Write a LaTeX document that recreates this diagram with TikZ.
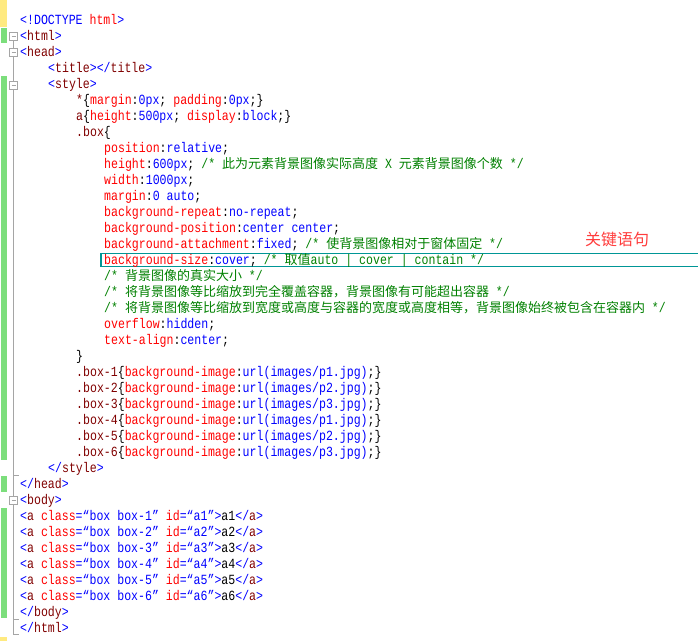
\documentclass[tikz,border=0pt]{standalone}
\usepackage{fontspec}
\usepackage{xcolor}
\usepackage{tikz}
\setmonofont[FakeStretch=0.826]{Liberation Mono}
\newfontfamily\zhfont{Noto Sans CJK SC}

\definecolor{htmlbrk}{RGB}{0,0,255}
\definecolor{htmltag}{RGB}{128,0,0}
\definecolor{htmlattr}{RGB}{255,0,0}
\definecolor{htmlval}{RGB}{0,0,255}
\definecolor{htmlcmt}{RGB}{0,128,0}
\definecolor{gutgreen}{RGB}{124,222,124}
\definecolor{gutyellow}{RGB}{255,234,128}
\definecolor{foldgray}{RGB}{165,165,165}
\definecolor{hiliteteal}{RGB}{0,150,150}
\definecolor{noteRed}{RGB}{255,60,60}

\newcommand{\htbr}[1]{\textcolor{htmlbrk}{#1}}
\newcommand{\htag}[1]{\textcolor{htmltag}{#1}}
\newcommand{\hattr}[1]{\textcolor{htmlattr}{#1}}
\newcommand{\hval}[1]{\textcolor{htmlval}{#1}}
\newcommand{\hcmt}[1]{\textcolor{htmlcmt}{#1}}
\newcommand{\zhtext}[1]{{\zhfont\fontsize{13}{16}\selectfont #1}}

\begin{document}
\begin{tikzpicture}[x=1pt, y=-1pt,
    codeline/.style={anchor=base west, inner sep=0pt, font=\ttfamily\fontsize{14}{16}\selectfont},
    foldbox/.style={draw=foldgray, fill=white, line width=0.8pt},
    hilite/.style={draw=hiliteteal, line width=1.2pt}]
        \useasboundingbox (0,0) rectangle (698,641);

        % Change bars
        \fill[gutyellow] (0,0) rectangle (6.5,27);
        \fill[gutgreen] (1,27.5) rectangle (6.5,43);
        \fill[gutgreen] (1,75.5) rectangle (6.5,459.5);
        \fill[gutgreen] (1,476) rectangle (6.5,492);
        \fill[gutgreen] (1,508) rectangle (6.5,617.5);
        \fill[gutyellow] (0,636.5) rectangle (6.5,641);

        % Fold line and markers
        \draw[foldgray, line width=0.8pt] (13.5,36) -- (13.5,634) -- (18.5,634);
        \draw[foldgray, line width=0.8pt] (13.5,475) -- (18.5,475);
        \draw[foldgray, line width=0.8pt] (13.5,619) -- (18.5,619);
        \draw[foldbox] (9.5,32) rectangle (17.5,40);
        \draw[foldbox] (9.5,48.5) rectangle (17.5,56.5);
        \draw[foldbox] (9.5,81) rectangle (17.5,89);
        \draw[foldbox] (9.5,496) rectangle (17.5,504);
        \draw[foldgray] (11.5,36) -- (15.5,36);
        \draw[foldgray] (11.5,52.5) -- (15.5,52.5);
        \draw[foldgray] (11.5,85) -- (15.5,85);
        \draw[foldgray] (11.5,500) -- (15.5,500);

        % Highlighted line
        \draw[hilite] (101,253.5) rectangle (700,266.5);
        \node[anchor=west, inner sep=0pt, text=noteRed, font=\zhfont\fontsize{16}{16}\selectfont] (keynote) at (585,239) {关键语句};

        % Head
        \node[codeline] (l1) at (20,24.5) {\htbr{<!DOCTYPE} \hattr{html}\htbr{>}};
        \node[codeline] (l2) at (20,40.5) {\htbr{<}\htag{html}\htbr{>}};
        \node[codeline] (l3) at (20,56.5) {\htbr{<}\htag{head}\htbr{>}};
        \node[codeline] (l4) at (48,72.5) {\htbr{<}\htag{title}\htbr{></}\htag{title}\htbr{>}};
        \node[codeline] (l5) at (48,88.5) {\htbr{<}\htag{style}\htbr{>}};

        % Style rules
        \node[codeline] (l6) at (76,104.5) {\htag{*}\{\hattr{margin}:\hval{0px}; \hattr{padding}:\hval{0px};\}};
        \node[codeline] (l7) at (76,120.5) {\htag{a}\{\hattr{height}:\hval{500px}; \hattr{display}:\hval{block};\}};
        \node[codeline] (l8) at (76,136.5) {\htag{.box}\{};
        \node[codeline] (l9) at (104,152.5) {\hattr{position}:\hval{relative};};
        \node[codeline] (l10) at (104,168.5) {\hattr{height}:\hval{600px}; \hcmt{/* \zhtext{此为元素背景图像实际高度} X \zhtext{元素背景图像个数} */}};
        \node[codeline] (l11) at (104,184.5) {\hattr{width}:\hval{1000px};};
        \node[codeline] (l12) at (104,200.5) {\hattr{margin}:\hval{0 auto};};
        \node[codeline] (l13) at (104,216.5) {\hattr{background-repeat}:\hval{no-repeat};};
        \node[codeline] (l14) at (104,232.5) {\hattr{background-position}:\hval{center center};};
        \node[codeline] (l15) at (104,248.5) {\hattr{background-attachment}:\hval{fixed}; \hcmt{/* \zhtext{使背景图像相对于窗体固定} */}};
        \node[codeline] (l16) at (104,264.5) {\hattr{background-size}:\hval{cover}; \hcmt{/* \zhtext{取值}auto | cover | contain */}};
        \node[codeline] (l17) at (104,280.5) {\hcmt{/* \zhtext{背景图像的真实大小} */}};
        \node[codeline] (l18) at (104,296.5) {\hcmt{/* \zhtext{将背景图像等比缩放到完全覆盖容器，背景图像有可能超出容器} */}};
        \node[codeline] (l19) at (104,312.5) {\hcmt{/* \zhtext{将背景图像等比缩放到宽度或高度与容器的宽度或高度相等，背景图像始终被包含在容器内} */}};
        \node[codeline] (l20) at (104,328.5) {\hattr{overflow}:\hval{hidden};};
        \node[codeline] (l21) at (104,344.5) {\hattr{text-align}:\hval{center};};
        \node[codeline] (l22) at (76,360.5) {\}};
        \node[codeline] (l23) at (76,376.5) {\htag{.box-1}\{\hattr{background-image}:\hval{url(images/p1.jpg)};\}};
        \node[codeline] (l24) at (76,392.5) {\htag{.box-2}\{\hattr{background-image}:\hval{url(images/p2.jpg)};\}};
        \node[codeline] (l25) at (76,408.5) {\htag{.box-3}\{\hattr{background-image}:\hval{url(images/p3.jpg)};\}};
        \node[codeline] (l26) at (76,424.5) {\htag{.box-4}\{\hattr{background-image}:\hval{url(images/p1.jpg)};\}};
        \node[codeline] (l27) at (76,440.5) {\htag{.box-5}\{\hattr{background-image}:\hval{url(images/p2.jpg)};\}};
        \node[codeline] (l28) at (76,456.5) {\htag{.box-6}\{\hattr{background-image}:\hval{url(images/p3.jpg)};\}};
        \node[codeline] (l29) at (48,472.5) {\htbr{</}\htag{style}\htbr{>}};
        \node[codeline] (l30) at (20,488.5) {\htbr{</}\htag{head}\htbr{>}};

        % Body
        \node[codeline] (l31) at (20,504.5) {\htbr{<}\htag{body}\htbr{>}};
        \node[codeline] (l32) at (20,520.5) {\htbr{<}\htag{a} \hattr{class}\htbr{=}\hval{“box box-1”} \hattr{id}\htbr{=}\hval{“a1”}\htbr{>}a1\htbr{</}\htag{a}\htbr{>}};
        \node[codeline] (l33) at (20,536.5) {\htbr{<}\htag{a} \hattr{class}\htbr{=}\hval{“box box-2”} \hattr{id}\htbr{=}\hval{“a2”}\htbr{>}a2\htbr{</}\htag{a}\htbr{>}};
        \node[codeline] (l34) at (20,552.5) {\htbr{<}\htag{a} \hattr{class}\htbr{=}\hval{“box box-3”} \hattr{id}\htbr{=}\hval{“a3”}\htbr{>}a3\htbr{</}\htag{a}\htbr{>}};
        \node[codeline] (l35) at (20,568.5) {\htbr{<}\htag{a} \hattr{class}\htbr{=}\hval{“box box-4”} \hattr{id}\htbr{=}\hval{“a4”}\htbr{>}a4\htbr{</}\htag{a}\htbr{>}};
        \node[codeline] (l36) at (20,584.5) {\htbr{<}\htag{a} \hattr{class}\htbr{=}\hval{“box box-5”} \hattr{id}\htbr{=}\hval{“a5”}\htbr{>}a5\htbr{</}\htag{a}\htbr{>}};
        \node[codeline] (l37) at (20,600.5) {\htbr{<}\htag{a} \hattr{class}\htbr{=}\hval{“box box-6”} \hattr{id}\htbr{=}\hval{“a6”}\htbr{>}a6\htbr{</}\htag{a}\htbr{>}};
        \node[codeline] (l38) at (20,616.5) {\htbr{</}\htag{body}\htbr{>}};
        \node[codeline] (l39) at (20,632.5) {\htbr{</}\htag{html}\htbr{>}};
    \end{tikzpicture}
\end{document}
